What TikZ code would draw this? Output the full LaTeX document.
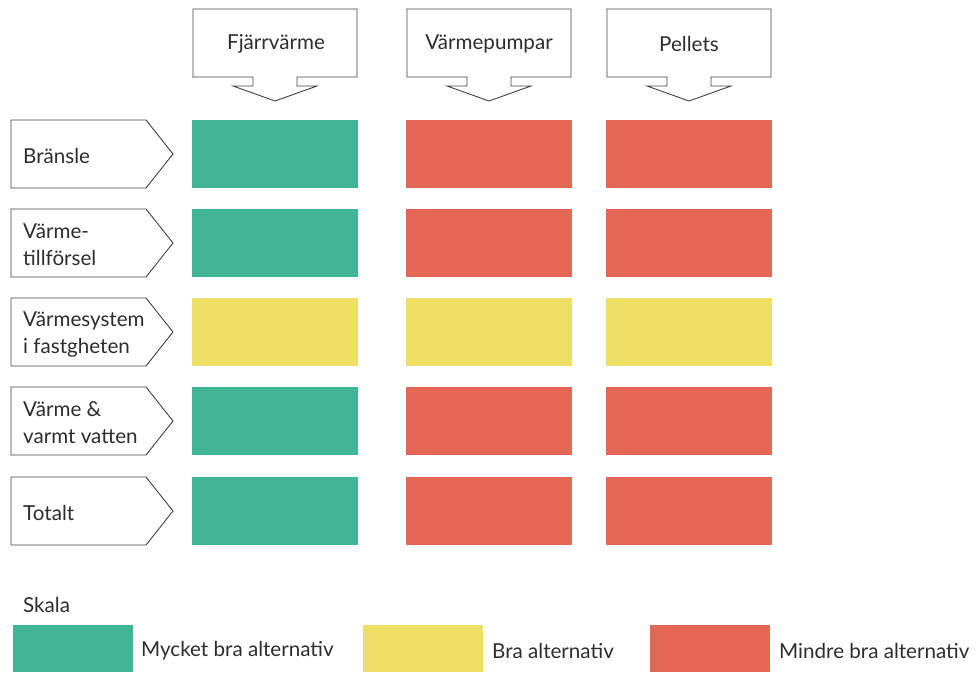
\documentclass[tikz,border=0pt]{standalone}
\usepackage{fontspec}
\setmainfont{Lato}
\definecolor{cgreen}{RGB}{65,180,150}
\definecolor{cred}{RGB}{228,103,86}
\definecolor{cyellow}{RGB}{237,223,102}
\definecolor{cline}{RGB}{64,64,64}
\definecolor{ctext}{RGB}{45,45,45}
\begin{document}
\begin{tikzpicture}[x=1pt,y=-1pt,
  outl/.style={draw=cline,line width=0.9pt,fill=white,line join=miter},
  txt/.style={text=ctext,font=\fontsize{20.6}{27}\selectfont,inner sep=0pt},
  cell/.style={inner sep=0pt,minimum width=166pt,minimum height=68pt,anchor=north west},
  legbox/.style={inner sep=0pt,minimum width=120pt,minimum height=47pt,anchor=north west},
  callout/.pic={
    \draw[outl] (0,0) -- (164,0) -- (164,68) -- (104,68) -- (104,77) -- (124,77)
      -- (82,92) -- (40,77) -- (60,77) -- (60,68) -- (0,68) -- cycle;
  },
  rowlabel/.pic={
    \draw[outl] (0,0) -- (135,0) -- (162,34) -- (135,68) -- (0,68) -- cycle;
  }]
\useasboundingbox (0,0) rectangle (976,672);
% column headers
\pic at (193,9) {callout};
\pic at (407,9) {callout};
\pic at (607,9) {callout};
\node[txt] (h1) at (276,44) {Fjärrvärme};
\node[txt] (h2) at (489,44) {Värmepumpar};
\node[txt] (h3) at (689,44) {Pellets};
% row labels
\pic at (11,120) {rowlabel};
\pic at (11,209) {rowlabel};
\pic at (11,298) {rowlabel};
\pic at (11,387) {rowlabel};
\pic at (11,477) {rowlabel};
\node[txt,anchor=west] (r1) at (23,156) {Bränsle};
\node[txt,anchor=west,align=left] (r2) at (23,245) {Värme-\\tillförsel};
\node[txt,anchor=west,align=left] (r3) at (23,334) {Värmesystem\\i fastgheten};
\node[txt,anchor=west,align=left] (r4) at (23,423) {Värme \&\\varmt vatten};
\node[txt,anchor=west] (r5) at (23,513) {Totalt};
% cells
\foreach \y/\a/\b/\c [count=\i] in {120/cgreen/cred/cred,209/cgreen/cred/cred,298/cyellow/cyellow/cyellow,387/cgreen/cred/cred,477/cgreen/cred/cred}{
  \node[cell,fill=\a] (c\i a) at (192,\y) {};
  \node[cell,fill=\b] (c\i b) at (406,\y) {};
  \node[cell,fill=\c] (c\i c) at (606,\y) {};
}
% legend
\node[txt,anchor=west] (skala) at (23,605) {Skala};
\node[legbox,fill=cgreen] (l1) at (13,625) {};
\node[legbox,fill=cyellow] (l2) at (363,625) {};
\node[legbox,fill=cred] (l3) at (650,625) {};
\node[txt,anchor=west] (t1) at (141,651) {Mycket bra alternativ};
\node[txt,anchor=west] (t2) at (492,651) {Bra alternativ};
\node[txt,anchor=west] (t3) at (779,651) {Mindre bra alternativ};
\end{tikzpicture}
\end{document}
